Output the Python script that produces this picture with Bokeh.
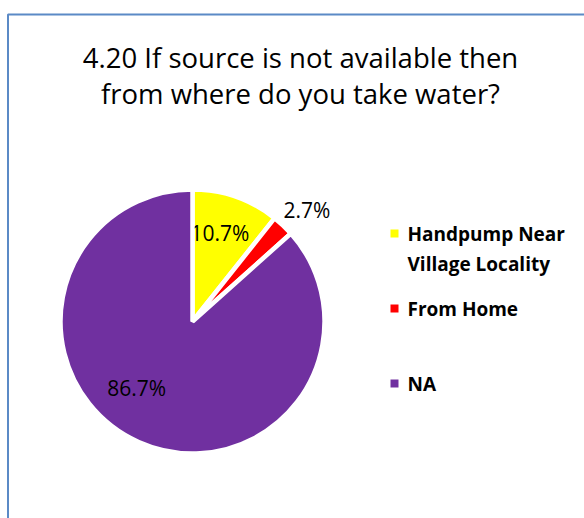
import math
from bokeh.plotting import figure
from bokeh.models import Range1d
from bokeh.core.properties import value
from bokeh.embed import file_html
from bokeh.resources import INLINE

# ---- data ----
title_lines = ["4.20 If source is not available then", "from where do you take water?"]
categories = ["Handpump Near\nVillage Locality", "From Home", "NA"]
percent = [10.7, 2.7, 86.7]
colors = ["#FFFF00", "#FF0000", "#7030A0"]

# ---- layout (screen pixel based) ----
W, H = 584, 518
def Y(sy):
    return H - sy

FONT = "Open Sans"
cx, cy, R = 192, Y(321), 132
label_r = [0.70, 1.21, 0.66]
label_shift = [2.0, -2.4, -15.7]

p = figure(width=W, height=H, output_backend="svg", toolbar_location=None,
           x_range=Range1d(0, W), y_range=Range1d(0, H),
           x_axis_location=None, y_axis_location=None, min_border=0,
           outline_line_color=None, background_fill_color="white",
           border_fill_color="white", tools="")
p.grid.visible = False

# chart area border
p.quad(left=[7.5], right=[700], top=[Y(14)], bottom=[Y(700)],
       fill_color=None, line_color="#5B8AC6", line_width=2)

# title
title_y = [56.5, 93]
for i, t in enumerate(title_lines):
    p.text(x=[300], y=[Y(title_y[i])], text=[t], text_font=value(FONT),
           text_font_size="27.5px", text_align="center", text_baseline="middle",
           text_color="#000000")

# pie
total = sum(percent)
cum = 0.0
for i, v in enumerate(percent):
    f0 = cum / total
    f1 = (cum + v) / total
    cum += v
    start = math.pi / 2 - f1 * 2 * math.pi
    end = math.pi / 2 - f0 * 2 * math.pi
    p.wedge(x=[cx], y=[cy], radius=R, start_angle=start, end_angle=end,
            direction="anticlock", fill_color=colors[i], line_color="white",
            line_width=4.5)
    mid = (start + end) / 2 + math.radians(label_shift[i])
    lx = cx + label_r[i] * R * math.cos(mid)
    ly = cy + label_r[i] * R * math.sin(mid)
    p.text(x=[lx], y=[ly], text=["%.1f%%" % v], text_font=value(FONT),
           text_font_size="21px", text_align="center", text_baseline="middle",
           text_color="#000000")

# legend
leg_y = [233, 308, 383]
for i, cat in enumerate(categories):
    p.rect(x=[394], y=[Y(leg_y[i])], width=8, height=8, fill_color=colors[i],
           line_color=None)
    for j, line in enumerate(cat.split("\n")):
        p.text(x=[407], y=[Y(leg_y[i] + 30 * j)], text=[line],
               text_font=value(FONT), text_font_size="19px",
               text_font_style="bold", text_align="left",
               text_baseline="middle", text_color="#000000")

open("out.html", "w").write(file_html(p, INLINE))
